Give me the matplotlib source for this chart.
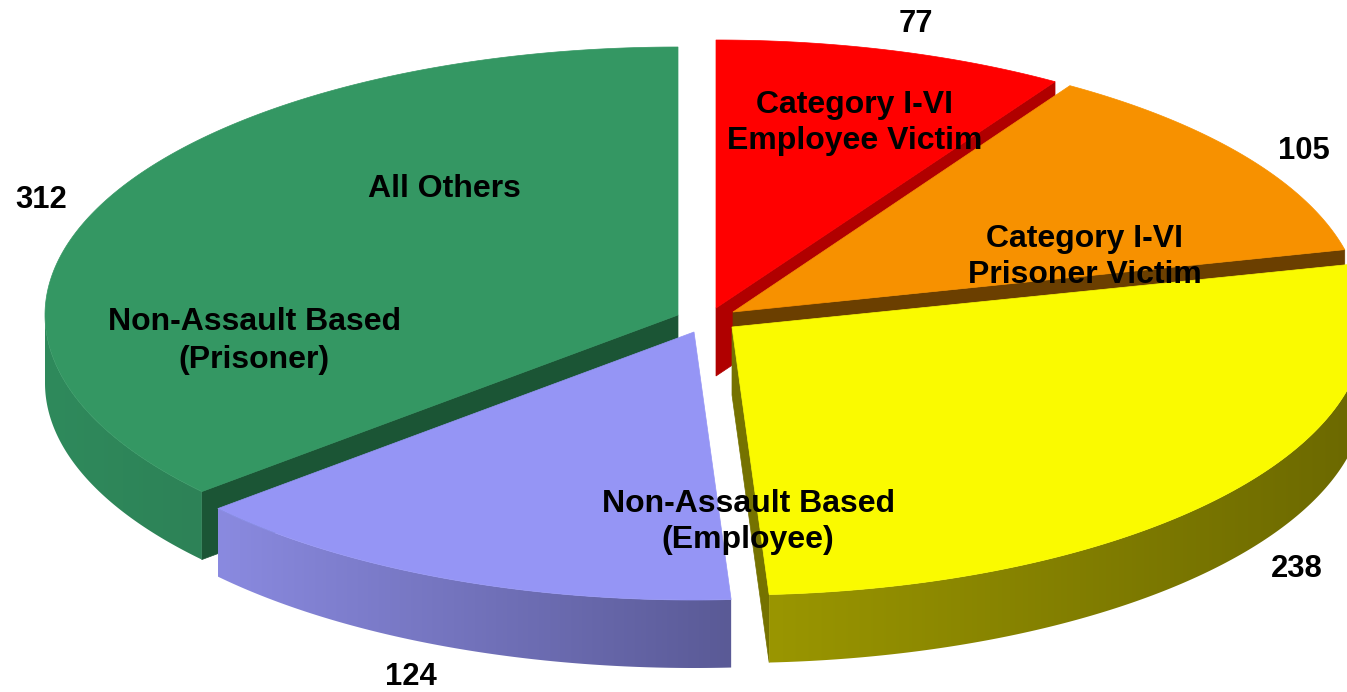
import numpy as np
import matplotlib
matplotlib.use("Agg")
import matplotlib.pyplot as plt
from matplotlib.colors import to_rgb
from matplotlib.patches import Polygon

# slices, clockwise from 12 o'clock
values = [77, 105, 238, 124, 312]
names = ["Category I-VI\nEmployee Victim", "Category I-VI\nPrisoner Victim", "",
         "Non-Assault Based\n(Employee)", ""]
top_colors = ["#ff0000", "#f79100", "#fafa00", "#9595f5", "#349763"]
cut_colors = ["#b00000", "#6b3f00", "#757200", "#5c5c99", "#1b5535"]
side_left = ["#b00000", "#6b3f00", "#9a9600", "#8a8ae0", "#2f8a5c"]
side_right = ["#b00000", "#6b3f00", "#6b6800", "#5a5a96", "#2d8257"]

# layout, in pixels of the picture
apex = [(716, 308), (733, 312), (732, 327), (694, 332), (678, 315)]
radius_x = [633, 629, 633, 633, 633]
name_pos = [(855, 123), (1085, 257), None, (748, 522), None]
value_pos = [(916, 24), (1304, 151), (1297, 569), (411, 677), (41, 200)]
RY = 268
DEPTH = 68
# back to front
draw_order = [4, 0, 1, 2, 3]

fig = plt.figure(figsize=(13.47, 6.92), dpi=100)
ax = fig.add_axes([0, 0, 1, 1])
plt.rcParams["font.family"] = ["Liberation Sans", "DejaVu Sans"]

edges = np.concatenate([[0], np.cumsum(values)]) / sum(values) * 360


def rim(c, rx, a0, a1, dy=0):
    t = np.radians(np.linspace(a0, a1, 200))
    return np.column_stack([c[0] + rx * np.sin(t), c[1] - RY * np.cos(t) + dy])


def face_shows(normal_angle):
    return -np.cos(np.radians(normal_angle)) > 1e-6


z = 1  # images sit under patches by default, so count the layers by hand
for i in draw_order:
    c = apex[i]
    rx = radius_x[i]
    a0, a1 = edges[i], edges[i + 1]

    # flat cut faces
    for a, normal in [(a0, a0 - 90), (a1, a1 + 90)]:
        if face_shows(normal):
            p = rim(c, rx, a, a)[0]
            ax.add_patch(Polygon([c, (c[0], c[1] + DEPTH), (p[0], p[1] + DEPTH), p],
                                 fc=cut_colors[i], ec=cut_colors[i], lw=0.5, zorder=z))
            z += 1

    # outer wall, only the part that faces us
    s0, s1 = max(a0, 90), min(a1, 270)
    if s1 > s0:
        pts = np.vstack([rim(c, rx, s0, s1), rim(c, rx, s1, s0, DEPTH)])
        wall = Polygon(pts, fc="none", ec="none", zorder=z)
        ax.add_patch(wall)
        x0, x1 = pts[:, 0].min(), pts[:, 0].max()
        mix = np.linspace(0, 1, 256)[None, :, None]
        grad = (1 - mix) * np.array(to_rgb(side_left[i])) + mix * np.array(to_rgb(side_right[i]))
        im = ax.imshow(grad, extent=[x0, x1, pts[:, 1].max(), pts[:, 1].min()],
                       aspect="auto", interpolation="bilinear", zorder=z)
        im.set_clip_path(wall)
        z += 1

    # top
    pts = np.vstack([[c], rim(c, rx, a0, a1)])
    ax.add_patch(Polygon(pts, fc=top_colors[i], ec=top_colors[i], lw=0.5, zorder=z))
    z += 1

ax.set_xlim(0, 1347)
ax.set_ylim(692, 0)
ax.axis("off")

size = 23
for txt, pos in zip(names, name_pos):
    if pos is not None:
        ax.text(pos[0], pos[1], txt, ha="center", va="center", fontsize=size,
                fontweight="bold", color="black", linespacing=1.26, zorder=50)
ax.text(444, 189, "All Others", ha="center", va="center", fontsize=size, fontweight="bold", zorder=50)
ax.text(254, 341, "Non-Assault Based\n(Prisoner)", ha="center", va="center", fontsize=size,
        fontweight="bold", linespacing=1.35, zorder=50)
for v, pos in zip(values, value_pos):
    ax.text(pos[0], pos[1], str(v), ha="center", va="center", fontsize=22.3, fontweight="bold", zorder=50)

fig.savefig("out.png", dpi=100)
